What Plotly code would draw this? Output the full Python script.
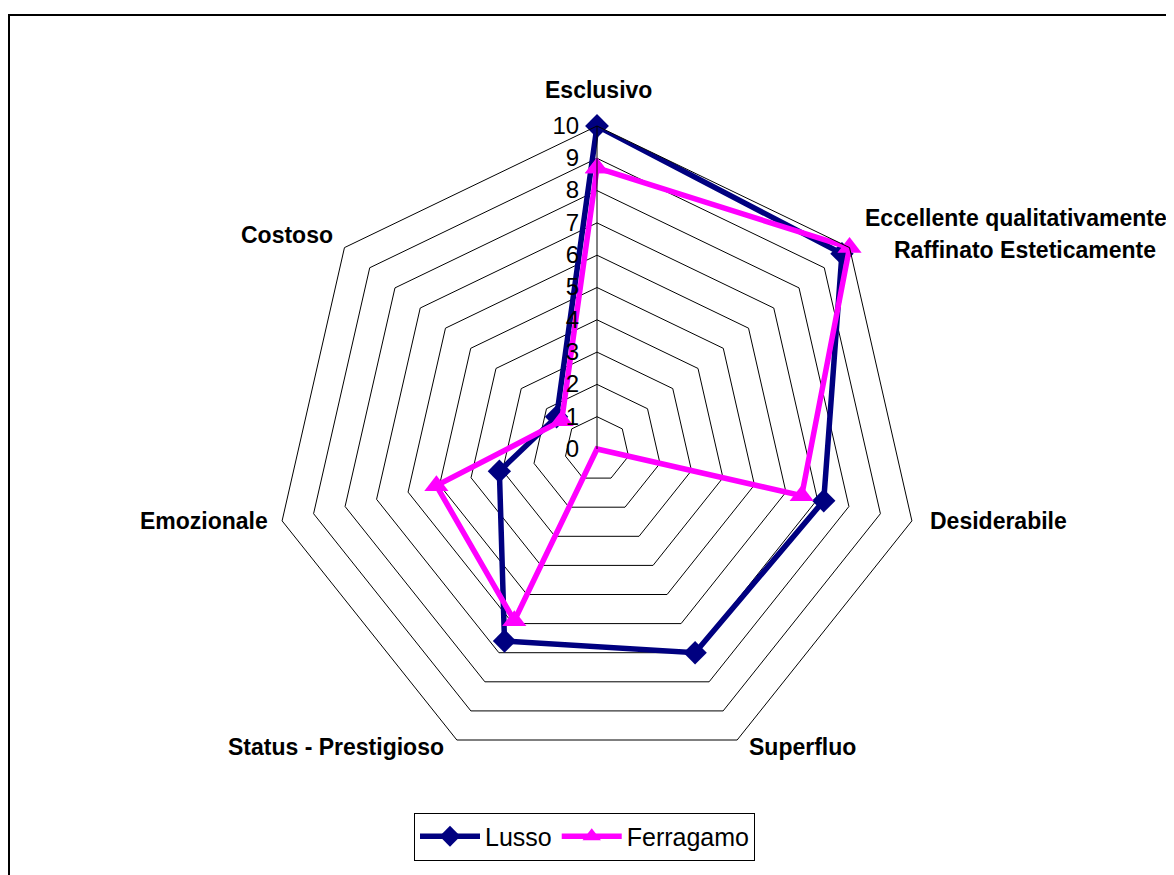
import plotly.graph_objects as go

categories = ["Esclusivo", "Eccellente qualitativamente<br>Raffinato Esteticamente",
              "Desiderabile", "Superfluo", "Status - Prestigioso", "Emozionale", "Costoso"]
lusso = [10, 9.7, 7.2, 7.0, 6.6, 3.1, 1.6]
ferragamo = [8.7, 10, 6.5, 0, 5.9, 5.1, 1.4]
radial_ticks = list(range(0, 11))

FONT = "Liberation Sans, Arial, sans-serif"

def closed(v):
    return v + v[:1]

fig = go.Figure()
fig.add_trace(go.Scatterpolar(
    r=closed(lusso), theta=closed(categories), name="Lusso", mode="lines+markers",
    line=dict(color="#000080", width=5.5),
    marker=dict(symbol="diamond", size=18, color="#000080"),
))
fig.add_trace(go.Scatterpolar(
    r=closed(ferragamo), theta=closed(categories), name="Ferragamo", mode="lines+markers",
    line=dict(color="#FF00FF", width=5.5),
    marker=dict(symbol="triangle-up", size=21, color="#FF00FF"),
))

# page has an 8px body margin: figure origin sits at page (8, 8)
W, H = 1166, 867
OFF = 8
cx, cy, R = 589, 441, 323

# category label centres (page pixels), one entry per text line
label_pos = [
    [(598, 90)],
    [(1016, 218), (1025, 250)],
    [(998, 521)],
    [(802, 747)],
    [(336, 747)],
    [(204, 521)],
    [(287, 235)],
]

annotations = []
for name, positions in zip(categories, label_pos):
    lines = name.split("<br>")
    for text, (px, py) in zip(lines, positions):
        annotations.append(dict(
            text=text, xref="paper", yref="paper",
            x=(px - OFF) / W, y=1 - (py - OFF) / H,
            xanchor="center", yanchor="middle", showarrow=False,
            font=dict(family=FONT, size=23, color="black", weight="bold"),
        ))

fig.update_layout(
    width=W, height=H,
    margin=dict(l=0, r=0, t=0, b=0),
    paper_bgcolor="white", plot_bgcolor="white",
    font=dict(family=FONT, color="black"),
    polar=dict(
        domain=dict(x=[(cx - R) / W, (cx + R) / W], y=[(H - cy - R) / H, (H - cy + R) / H]),
        gridshape="linear",
        bgcolor="white",
        angularaxis=dict(
            rotation=90, direction="clockwise",
            showgrid=False, showline=True, linecolor="black", linewidth=1,
            ticks="", showticklabels=False,
        ),
        radialaxis=dict(
            range=[0, 10], tickvals=radial_ticks, angle=90, tickangle=90,
            showline=True, linecolor="black", linewidth=1,
            gridcolor="black", gridwidth=1,
            ticks="outside", ticklen=9, tickcolor="rgba(0,0,0,0)",
            side="counterclockwise",
            tickfont=dict(family=FONT, size=24, color="black"),
        ),
    ),
    legend=dict(
        orientation="h", x=(584.5 - OFF) / W, xanchor="center", y=1 - (836.5 - OFF) / H, yanchor="middle",
        bordercolor="black", borderwidth=1, bgcolor="white",
        font=dict(family=FONT, size=25, color="black"),
        itemwidth=60,
    ),
    annotations=annotations,
    shapes=[dict(type="rect", xref="paper", yref="paper",
                 x0=1 / W, x1=1162 / W, y0=-0.02, y1=1 - 7 / H,
                 line=dict(color="black", width=2), fillcolor="rgba(0,0,0,0)", layer="below")],
)

fig.write_html("out.html")
